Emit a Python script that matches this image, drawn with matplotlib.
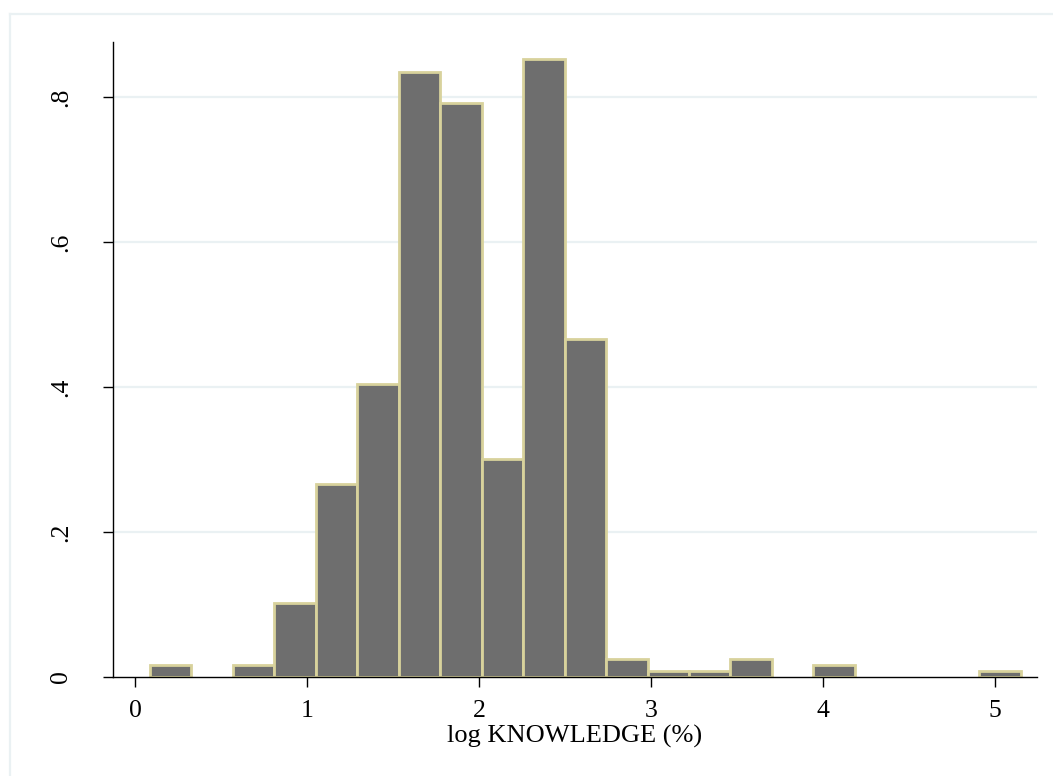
"""Stata-style density histogram of log KNOWLEDGE (%)."""
import numpy as np
import matplotlib
matplotlib.use("Agg")
import matplotlib.pyplot as plt
from matplotlib.lines import Line2D

# histogram: 21 bins of equal width, density heights
bin_start = 0.085
bin_width = 0.2411
density = [0.017, 0.0, 0.017, 0.102, 0.266, 0.404, 0.834, 0.792, 0.301, 0.852,
           0.466, 0.025, 0.008, 0.008, 0.025, 0.0, 0.017, 0.0, 0.0, 0.0, 0.008]
x_ticks = [0, 1, 2, 3, 4, 5]
x_labels = ["0", "1", "2", "3", "4", "5"]
y_ticks = [0, 0.2, 0.4, 0.6, 0.8]
y_labels = ["0", ".2", ".4", ".6", ".8"]
x_title = "log KNOWLEDGE (%)"

plt.rcParams["font.family"] = ["Liberation Serif", "DejaVu Serif"]
W, H = 1053, 776
fig = plt.figure(figsize=(W / 100, H / 100), dpi=100)
fig.patch.set_facecolor("white")
ax = fig.add_axes([113 / W, 1 - 677 / H, (1037 - 113) / W, (677 - 42) / H])

d = np.array(density)
lefts = bin_start + bin_width * np.arange(len(d))
keep = d > 0  # empty bins draw nothing
ax.bar(lefts[keep], d[keep], width=bin_width, align="edge", color="#6e6e6e",
       edgecolor="#d8d29c", linewidth=2.0, zorder=3)

ax.set_xlim(-0.13, 5.243)
ax.set_ylim(0, 0.876)
ax.set_xticks(x_ticks, x_labels)
ax.set_yticks(y_ticks, y_labels)
for t in ax.get_yticklabels():
    t.set_rotation(90)
    t.set_va("center")
ax.tick_params(axis="both", direction="out", length=7.5, width=1.0, color="black",
               labelsize=18.5)
ax.tick_params(axis="x", pad=9)
ax.tick_params(axis="y", pad=22)
for v in y_ticks[1:]:
    ax.axhline(v, color="#eaf1f3", linewidth=1.6, zorder=1)
for s in ("top", "right"):
    ax.spines[s].set_visible(False)
for s in ("left", "bottom"):
    ax.spines[s].set_linewidth(1.0)
    ax.spines[s].set_zorder(4)
ax.set_xlabel(x_title, fontsize=19, labelpad=2)

# faint outer graph-region border (left and top edges visible)
fig.add_artist(Line2D([9.5 / W, 9.5 / W], [0, 1 - 14 / H], transform=fig.transFigure,
                      color="#eaf1f3", linewidth=1.6))
fig.add_artist(Line2D([9.5 / W, 1], [1 - 14 / H, 1 - 14 / H], transform=fig.transFigure,
                      color="#eaf1f3", linewidth=1.6))

fig.savefig("out.png", dpi=100)
